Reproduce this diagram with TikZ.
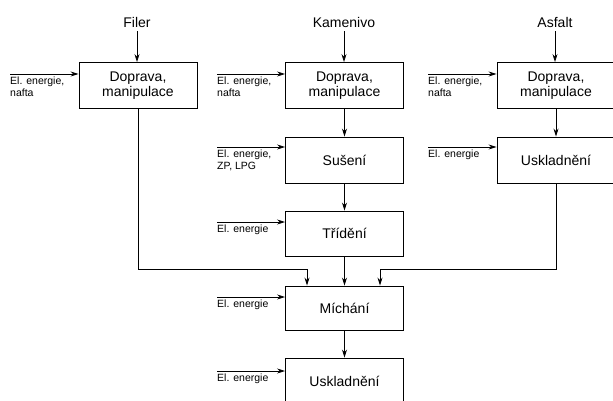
\documentclass[tikz,border=0pt]{standalone}
\usepackage{fontspec}
\setmainfont{Liberation Sans}
\usetikzlibrary{arrows.meta}
\begin{document}
\begin{tikzpicture}[x=1pt,y=1pt,
  box/.style={draw, line width=0.9pt, minimum width=118pt, inner sep=0pt, align=center, font=\fontsize{14}{15.5}\selectfont},
  ttl/.style={font=\fontsize{14}{16}\selectfont, inner sep=1pt},
  lbl/.style={font=\fontsize{10.5}{12}\selectfont, anchor=north west, align=left, inner sep=0pt},
  arr/.style={line width=0.8pt, -{Stealth[length=8pt,width=5pt]}},
  ln/.style={line width=0.8pt}]
\useasboundingbox (0,0) rectangle (613,-401);
% boxes
\node[box, minimum height=46pt] (fdm) at (138,-85.5) {Doprava,\\manipulace};
\node[box, minimum height=46pt] (kdm) at (344.5,-85.5) {Doprava,\\manipulace};
\node[box, minimum height=46pt] (sus) at (344.5,-160) {Sušení};
\node[box, minimum height=45pt] (tri) at (344.5,-233.5) {Třídění};
\node[box, minimum height=44pt] (mic) at (344.5,-308) {Míchání};
\node[box, minimum height=46pt] (usk) at (344.5,-381) {Uskladnění};
\node[box, minimum height=46pt] (adm) at (556,-85.5) {Doprava,\\manipulace};
\node[box, minimum height=46pt] (ausk) at (556,-160) {Uskladnění};
% titles
\node[ttl] (tf) at (137,-22) {Filer};
\node[ttl] (tk) at (344,-22) {Kamenivo};
\node[ttl] (ta) at (555,-22) {Asfalt};
\draw[arr] (tf.south) ++(0,-3) coordinate (tfs) -- (tfs |- fdm.north);
\draw[arr] (tk.south) ++(0,-3) coordinate (tks) -- (tks |- kdm.north);
\draw[arr] (ta.south) ++(0,-3) coordinate (tas) -- (tas |- adm.north);
% chain
\draw[arr] (kdm) -- (sus);
\draw[arr] (sus) -- (tri);
\draw[arr] (adm) -- (ausk);
\draw[arr] (tri) -- (mic);
\draw[arr] (mic) -- (usk);
% merges
\coordinate (jl) at (307,-269);
\coordinate (jr) at (380,-269);
\draw[arr] (fdm.south) |- (jl) -- (jl |- mic.north);
\draw[arr] (ausk.south) |- (jr) -- (jr |- mic.north);
% inputs
\coordinate (i1) at (10,-74);
\coordinate (i2) at (217,-74);
\coordinate (i3) at (428,-74);
\coordinate (i4) at (217,-147);
\coordinate (i5) at (428,-147);
\coordinate (i6) at (217,-222);
\coordinate (i7) at (217,-297);
\coordinate (i8) at (217,-371);
\draw[arr] (i1) -- (i1 -| fdm.west);
\draw[arr] (i2) -- (i2 -| kdm.west);
\draw[arr] (i3) -- (i3 -| adm.west);
\draw[arr] (i4) -- (i4 -| sus.west);
\draw[arr] (i5) -- (i5 -| ausk.west);
\draw[arr] (i6) -- (i6 -| tri.west);
\draw[arr] (i7) -- (i7 -| mic.west);
\draw[arr] (i8) -- (i8 -| usk.west);
\node[lbl] (l1) at ([yshift=-3]i1) {El. energie,\\nafta};
\node[lbl] (l2) at ([yshift=-3]i2) {El. energie,\\nafta};
\node[lbl] (l3) at ([yshift=-3]i3) {El. energie,\\nafta};
\node[lbl] (l4) at ([yshift=-3]i4) {El. energie,\\ZP, LPG};
\node[lbl] (l5) at ([yshift=-3]i5) {El. energie};
\node[lbl] (l6) at ([yshift=-3]i6) {El. energie};
\node[lbl] (l7) at ([yshift=-3]i7) {El. energie};
\node[lbl] (l8) at ([yshift=-3]i8) {El. energie};
\end{tikzpicture}
\end{document}
